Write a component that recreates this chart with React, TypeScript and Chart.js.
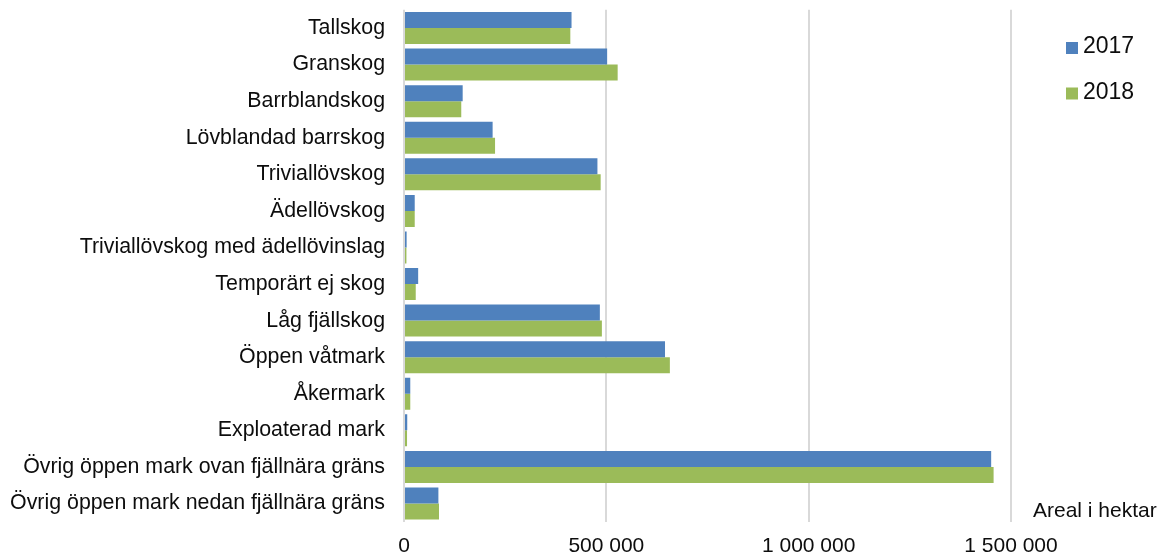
import React, { useEffect, useRef } from "react";
import { Chart, registerables } from "chart.js";

Chart.register(...registerables);

const categories = [
  "Tallskog",
  "Granskog",
  "Barrblandskog",
  "Lövblandad barrskog",
  "Triviallövskog",
  "Ädellövskog",
  "Triviallövskog med ädellövinslag",
  "Temporärt ej skog",
  "Låg fjällskog",
  "Öppen våtmark",
  "Åkermark",
  "Exploaterad mark",
  "Övrig öppen mark ovan fjällnära gräns",
  "Övrig öppen mark nedan fjällnära gräns",
];

const seriesNames = ["2017", "2018"];

const values2017 = [
  414000, 502000, 145000, 219000, 478000, 26500, 6500, 35000, 484000, 645000,
  15500, 8000, 1451000, 85000,
];

const values2018 = [
  411000, 528000, 141500, 225000, 486000, 26500, 6000, 29000, 489000, 657000,
  15500, 7500, 1457000, 86500,
];

const xTicks = [0, 500000, 1000000, 1500000];
const axisTitle = "Areal i hektar";

const COLORS = ["#4F81BD", "#9BBB59"];
const FONT = "'Liberation Sans', Arial, sans-serif";
const TEXT = "#0d0d0d";

function fmt(v: number): string {
  return String(Math.round(v)).replace(/\B(?=(\d{3})+(?!\d))/g, " ");
}

const overlayPlugin = {
  id: "overlay",
  afterDraw(chart: any) {
    const ctx = chart.ctx;
    ctx.save();
    ctx.textBaseline = "middle";
    ctx.textAlign = "left";
    ctx.font = `23px ${FONT}`;
    chart.data.datasets.forEach((ds: any, i: number) => {
      const cy = 47 + i * 45.5;
      ctx.fillStyle = ds.backgroundColor;
      ctx.fillRect(1066, cy - 5, 12, 12);
      ctx.fillStyle = TEXT;
      ctx.fillText(ds.label, 1083, cy);
    });
    ctx.font = `21px ${FONT}`;
    ctx.fillStyle = TEXT;
    ctx.fillText(axisTitle, 1033, 511);
    ctx.restore();
  },
};

export default function App() {
  const ref = useRef<HTMLCanvasElement | null>(null);

  useEffect(() => {
    if (!ref.current) return;
    const chart = new Chart(ref.current, {
      type: "bar",
      data: {
        labels: categories,
        datasets: [
          {
            label: seriesNames[0],
            data: values2017,
            backgroundColor: COLORS[0],
            categoryPercentage: 0.875,
            barPercentage: 1,
          },
          {
            label: seriesNames[1],
            data: values2018,
            backgroundColor: COLORS[1],
            categoryPercentage: 0.875,
            barPercentage: 1,
          },
        ],
      },
      options: {
        indexAxis: "y",
        responsive: false,
        animation: false,
        layout: { padding: { top: 9.7, right: 157, bottom: 0, left: 0 } },
        plugins: {
          legend: { display: false },
          tooltip: { enabled: false },
          title: { display: false },
        },
        scales: {
          x: {
            type: "linear",
            min: 0,
            max: 1500000,
            afterBuildTicks: (scale: any) => {
              scale.ticks = xTicks.map((v) => ({ value: v }));
            },
            afterFit: (scale: any) => {
              scale.height = 34.2;
              scale.paddingLeft = 0;
              scale.paddingRight = 0;
            },
            grid: {
              color: "#d9d9d9",
              lineWidth: 2,
              drawTicks: false,
            },
            border: { display: false },
            ticks: {
              padding: 12,
              color: TEXT,
              font: { family: FONT, size: 21 },
              callback: (v: any) => fmt(Number(v)),
            },
          },
          y: {
            type: "category",
            afterFit: (scale: any) => {
              scale.width = 404;
              scale.paddingTop = 0;
              scale.paddingBottom = 0;
            },
            grid: { display: false, drawTicks: false },
            border: { display: false },
            ticks: {
              autoSkip: false,
              padding: 19,
              color: TEXT,
              font: { family: FONT, size: 21.35 },
            },
          },
        },
      },
      plugins: [overlayPlugin],
    } as any);
    return () => chart.destroy();
  }, []);

  return (
    <div
      style={{
        position: "absolute",
        left: 0,
        top: 0,
        width: 1168,
        height: 556,
        background: "#fff",
      }}
    >
      <canvas ref={ref} width={1168} height={556} />
    </div>
  );
}
